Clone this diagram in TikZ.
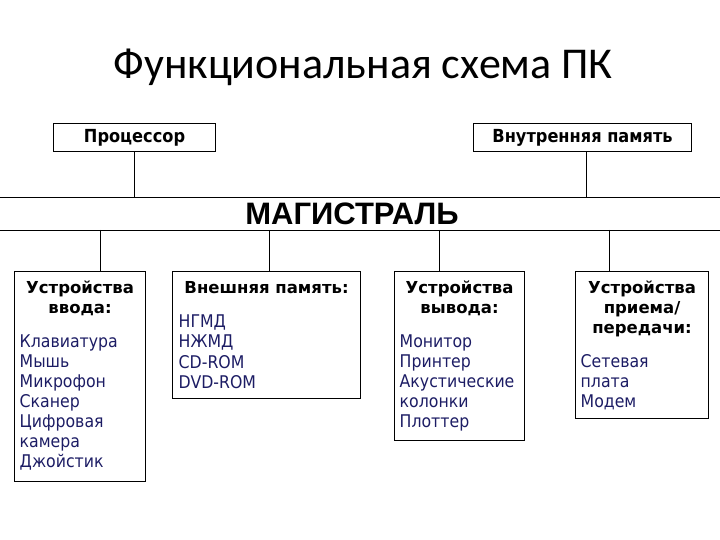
\documentclass[tikz,border=0pt]{standalone}
\usepackage{fontspec}
\setmainfont{DejaVu Sans}
\newfontfamily\condfont{DejaVu Sans Condensed}
\newfontfamily\titlefont{Carlito}
\newfontfamily\magfont{Liberation Sans}
\definecolor{itemblue}{RGB}{28,28,100}
\begin{document}
\begin{tikzpicture}[x=1pt,y=-1pt,
  frame/.style={draw, line width=1.1pt, inner sep=0pt, anchor=north west},
  topbox/.style={frame, font=\condfont\fontsize{18}{20}\selectfont\bfseries, text height=13pt, text depth=3pt},
  headtxt/.style={inner sep=0pt, anchor=base, font=\fontsize{16.5}{20}\selectfont\bfseries},
  itemtxt/.style={inner sep=0pt, anchor=base west, text=itemblue, font=\condfont\fontsize{17.5}{20}\selectfont},
  conn/.style={line width=0.9pt}]
\useasboundingbox (0,0) rectangle (720,540);
% title
\node[inner sep=0pt, anchor=base, font=\titlefont\fontsize{44}{48}\selectfont] (title) at (363,79) {Функциональная схема ПК};
% top boxes
\node[topbox, minimum width=162pt, minimum height=28pt] (cpu) at (53,123) {Процессор};
\node[topbox, minimum width=218pt, minimum height=28pt] (mem) at (473,123) {Внутренняя память};
% bus
\coordinate (mtl) at (0,197);
\coordinate (mtr) at (720,197);
\coordinate (mbl) at (0,230);
\coordinate (mbr) at (720,230);
\draw[conn] (mtl) -- (mtr);
\draw[conn] (mbl) -- (mbr);
\node[inner sep=0pt, anchor=base, font=\magfont\fontsize{31}{32}\selectfont\bfseries] (bus) at (352,225) {МАГИСТРАЛЬ};
\coordinate (u2) at (586,197);
\draw[conn] (cpu.south) -- (cpu.south |- mtl);
\draw[conn] (u2) -- (u2 |- mem.south);
% lower boxes
\node[frame, minimum width=131pt, minimum height=210pt] (b1) at (14,271) {};
\node[frame, minimum width=188pt, minimum height=127pt] (b2) at (172,271) {};
\node[frame, minimum width=130pt, minimum height=169pt] (b3) at (394,271) {};
\node[frame, minimum width=133pt, minimum height=147pt] (b4) at (575,271) {};
\coordinate (v1) at (100,230);
\coordinate (v2) at (269,230);
\coordinate (v3) at (439,230);
\coordinate (v4) at (609,230);
\draw[conn] (v1) -- (v1 |- b1.north);
\draw[conn] (v2) -- (v2 |- b2.north);
\draw[conn] (v3) -- (v3 |- b3.north);
\draw[conn] (v4) -- (v4 |- b4.north);
% headings
\node[headtxt] (h1a) at (b1.north |- 0,293) {Устройства};
\node[headtxt] (h1b) at (b1.north |- 0,313) {ввода:};
\node[headtxt] (h2a) at (b2.north |- 0,293) {Внешняя память:};
\node[headtxt] (h3a) at (b3.north |- 0,293) {Устройства};
\node[headtxt] (h3b) at (b3.north |- 0,313) {вывода:};
\node[headtxt] (h4a) at (b4.north |- 0,293) {Устройства};
\node[headtxt] (h4b) at (b4.north |- 0,313) {приема/};
\node[headtxt] (h4c) at (b4.north |- 0,333) {передачи:};
% items
\foreach \t [count=\i] in {Клавиатура,Мышь,Микрофон,Сканер,Цифровая,камера,Джойстик}
  \node[itemtxt] (ia\i) at (19.5,{347+20*(\i-1)}) {\t};
\foreach \t [count=\i] in {НГМД,НЖМД,CD-ROM,DVD-ROM}
  \node[itemtxt] (ib\i) at (178.5,{327+20.5*(\i-1)}) {\t};
\foreach \t [count=\i] in {Монитор,Принтер,Акустические,колонки,Плоттер}
  \node[itemtxt] (ic\i) at (399.5,{347+20*(\i-1)}) {\t};
\foreach \t [count=\i] in {Сетевая,плата,Модем}
  \node[itemtxt] (id\i) at (580.5,{367+20*(\i-1)}) {\t};
\end{tikzpicture}
\end{document}
